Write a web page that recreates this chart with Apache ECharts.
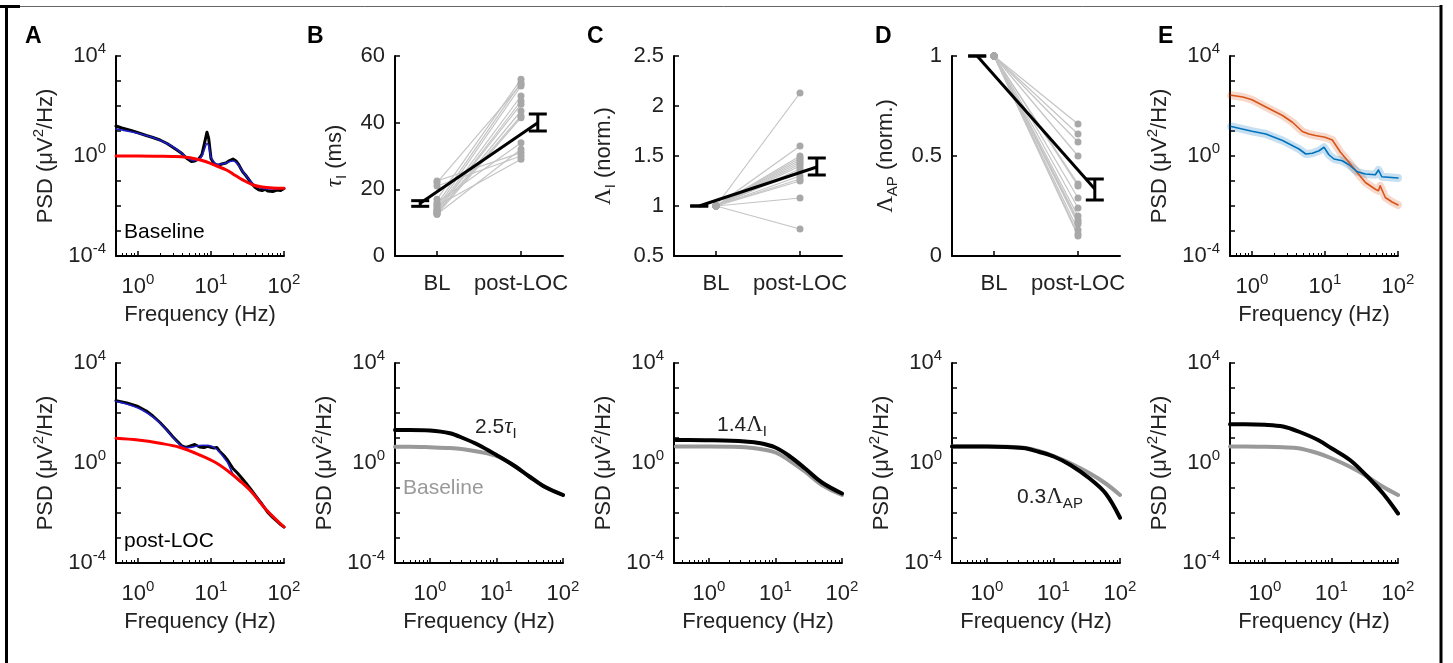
<!DOCTYPE html>
<html>
<head>
<meta charset="utf-8">
<script src="https://cdn.jsdelivr.net/npm/echarts@6.0.0/dist/echarts.min.js"></script>
<style>
html, body { margin: 0; padding: 0; background: #fff; }
#chart { width: 1453px; height: 663px; }
</style>
</head>
<body>
<div id="chart"></div>
<script>
// PSD values are kept as log10(PSD)

// A, baseline: recorded spectrum (black), full fit (blue), aperiodic part (red)
var fA1 = [0.5, 0.6, 0.8, 1, 1.3, 1.6, 2, 2.5, 3, 3.5, 4, 4.6, 5.4, 6, 6.8, 7.5, 8.2, 8.8, 9.3, 10, 11, 12.5, 14, 16, 18, 20, 22, 24, 27, 30, 35, 40, 45, 50, 55, 60, 70, 80, 90, 100];
var aTopData = [1.20, 1.12, 1.02, 0.93, 0.82, 0.74, 0.64, 0.50, 0.35, 0.22, 0.10, -0.08, -0.22, -0.20, -0.12, 0.05, 0.55, 0.95, 0.70, -0.10, -0.30, -0.38, -0.32, -0.28, -0.18, -0.12, -0.20, -0.35, -0.62, -0.78, -1.05, -1.25, -1.35, -1.38, -1.33, -1.40, -1.42, -1.36, -1.38, -1.30];
var aTopFit = [1.08, 1.04, 0.97, 0.91, 0.82, 0.74, 0.63, 0.50, 0.37, 0.24, 0.10, -0.05, -0.16, -0.18, -0.14, 0.00, 0.30, 0.50, 0.40, -0.05, -0.25, -0.34, -0.32, -0.28, -0.22, -0.20, -0.25, -0.38, -0.60, -0.78, -1.02, -1.18, -1.26, -1.30, -1.31, -1.32, -1.32, -1.31, -1.30, -1.29];
var fA1Ap = [0.5, 1, 2, 3, 4.6, 6, 8.6, 12, 16.3, 20, 24.8, 30, 37.9, 50, 70, 100];
var aTopAp = [0.00, 0.00, -0.01, -0.02, -0.05, -0.11, -0.23, -0.40, -0.56, -0.72, -0.89, -1.02, -1.16, -1.24, -1.28, -1.29];

// A, post-LOC
var fA2 = [0.5, 0.7, 1, 1.3, 1.6, 2, 2.5, 3, 3.5, 4, 4.5, 5, 6, 7, 8, 9, 10, 11, 12, 13, 15, 17, 20, 23, 26, 30, 35, 40, 50, 60, 70, 80, 90, 100];
var aBotData = [2.49, 2.40, 2.26, 2.08, 1.88, 1.62, 1.32, 1.05, 0.85, 0.68, 0.62, 0.66, 0.74, 0.64, 0.62, 0.67, 0.63, 0.60, 0.62, 0.48, 0.30, 0.10, -0.22, -0.40, -0.58, -0.80, -1.05, -1.28, -1.65, -1.98, -2.18, -2.33, -2.46, -2.56];
var aBotFit = [2.47, 2.36, 2.20, 2.02, 1.84, 1.60, 1.30, 1.03, 0.82, 0.67, 0.62, 0.62, 0.66, 0.70, 0.71, 0.70, 0.68, 0.62, 0.55, 0.45, 0.22, 0.00, -0.45, -0.66, -0.78, -0.92, -1.10, -1.28, -1.62, -1.92, -2.12, -2.30, -2.44, -2.56];
var fA2Ap = [0.5, 1, 2, 3.7, 7, 12, 20, 34, 58, 100];
var aBotAp = [0.99, 0.92, 0.79, 0.63, 0.32, -0.01, -0.48, -1.08, -1.89, -2.56];

// B-D, per subject parameters (BL -> post-LOC)
var tauBL   = [22.5, 22, 21, 17, 16, 15.5, 15, 14.5, 14, 13.5, 13.5, 13, 13, 12.5, 12.5];
var tauPost = [31, 51.5, 30, 53, 34, 52, 29, 51, 48, 46.5, 45.5, 43.5, 42, 41.5, 32];
var lamIBL   = [1, 1, 1, 1, 1, 1, 1, 1, 1, 1, 1, 1, 1, 1, 1];
var lamIPost = [2.13, 1.6, 1.5, 1.48, 1.46, 1.44, 1.42, 1.4, 1.37, 1.35, 1.3, 1.27, 1.25, 1.08, 0.77];
var lamApBL   = [1, 1, 1, 1, 1, 1, 1, 1, 1, 1, 1, 1, 1, 1, 1];
var lamApPost = [0.66, 0.61, 0.57, 0.5, 0.36, 0.35, 0.29, 0.24, 0.2, 0.18, 0.17, 0.16, 0.13, 0.11, 0.1];

// group mean and error bars, drawn beside the categories
var errX = [0.8, 2.2];
var tauMean = [15.8, 40.0], tauLo = [14.9, 37.5], tauHi = [16.6, 42.6];
var lamIMean = [1, 1.39], lamILo = [1, 1.31], lamIHi = [1, 1.48];
var lamApMean = [1, 0.335], lamApLo = [1, 0.28], lamApHi = [1, 0.385];

// E, group spectra: baseline (blue) and post-LOC (orange)
var fE1 = [0.52, 0.75, 1, 1.55, 2.62, 3.58, 4.9, 6.0, 7.4, 10, 12.6, 16.3, 21.3, 27.6, 35.8, 49, 54, 57, 67, 83, 100];
var eTopPost = [2.43, 2.36, 2.25, 1.96, 1.62, 1.35, 0.98, 0.88, 0.82, 0.75, 0.64, 0.15, -0.25, -0.66, -1.06, -1.33, -1.39, -1.19, -1.66, -1.84, -1.96];
var fE2 = [0.52, 1, 1.55, 2.62, 4.4, 5.45, 6.7, 8.3, 9.7, 11.3, 13.3, 17.2, 21.3, 27.6, 35.8, 49, 54, 60, 100];
var eTopBL = [1.18, 0.99, 0.88, 0.62, 0.28, 0.08, 0.11, 0.21, 0.35, 0.05, -0.12, -0.19, -0.35, -0.63, -0.72, -0.75, -0.56, -0.83, -0.88];

// bottom row B-E, model spectra: baseline (gray) and changed parameter (black)
var fB = [0.3, 0.5, 1, 2, 3.2, 5.4, 10, 17.8, 31.6, 53, 100];
var bBase = [0.65, 0.65, 0.63, 0.60, 0.55, 0.45, 0.28, -0.08, -0.55, -0.95, -1.28];
var bMod  = [1.32, 1.32, 1.30, 1.19, 0.99, 0.72, 0.32, -0.08, -0.55, -0.95, -1.28];
var fC = [0.32, 0.5, 1, 2.2, 3.5, 5.6, 10, 15.8, 28, 50, 100];
var cBase = [0.66, 0.66, 0.66, 0.65, 0.63, 0.57, 0.42, 0.12, -0.35, -0.88, -1.28];
var cMod  = [0.92, 0.92, 0.91, 0.89, 0.86, 0.80, 0.62, 0.30, -0.22, -0.78, -1.22];
var fD = [0.3, 0.5, 1, 2, 3.8, 6, 10.3, 18, 35, 61, 100];
var dBase = [0.66, 0.66, 0.66, 0.65, 0.60, 0.48, 0.27, -0.01, -0.41, -0.82, -1.28];
var dMod  = [0.66, 0.66, 0.66, 0.64, 0.59, 0.45, 0.25, -0.08, -0.62, -1.22, -2.19];
var fE3 = [0.3, 0.5, 1, 1.88, 3.2, 6.3, 10, 19, 33.5, 59.6, 100];
var eBase = [0.66, 0.66, 0.65, 0.63, 0.59, 0.39, 0.19, -0.15, -0.52, -0.95, -1.28];
var eMod  = [1.55, 1.55, 1.53, 1.46, 1.26, 0.92, 0.59, 0.12, -0.50, -1.22, -2.02];

var FONT = 'Liberation Sans';
var SERIF = 'Liberation Serif';
var TXT = '#222';

var cols = [116, 395, 674, 952, 1230];
var rowTop = [56, 363];

var chart = echarts.init(document.getElementById('chart'));

// rich styles for super/subscripts
var rich = {
  s: { fontSize: 15, fontFamily: FONT, color: TXT, verticalAlign: 'top', lineHeight: 15 },
  sub: { fontSize: 15, fontFamily: FONT, color: TXT, verticalAlign: 'bottom', lineHeight: 15 },
  b: { fontSize: 22, fontFamily: FONT, color: TXT, lineHeight: 29 },
  L: { fontSize: 23, fontFamily: SERIF, color: TXT, lineHeight: 29 },
  t: { fontSize: 23, fontFamily: SERIF, fontStyle: 'italic', color: TXT, lineHeight: 29 }
};

// decade labels; the PSD axis only labels every 4th decade
function powLabel(v) {
  var e = Math.log10(v);
  var r = Math.round(e);
  if (Math.abs(e - r) > 1e-6) return '';
  return '{b|10}{s|' + r + '}';
}
function psdLabel(v) {
  var r = Math.round(Math.log10(v));
  return r % 4 === 0 ? powLabel(v) : '';
}

var axisLine = { show: true, onZero: false, lineStyle: { color: '#000', width: 2 } };
var tick = { show: true, inside: true, length: 5, lineStyle: { color: '#000', width: 1.5 } };

var grids = [], xAxes = [], yAxes = [], series = [];

for (var r = 0; r < 2; r++) {
  for (var c = 0; c < 5; c++) {
    grids.push({ left: cols[c], top: rowTop[r], width: 168, height: 200 });
  }
}

function freqAxis(g, min) {
  return {
    gridIndex: g, type: 'log', logBase: 10, min: min, max: 100,
    axisLine: axisLine, axisTick: tick, splitLine: { show: false },
    minorTick: { show: true, splitNumber: 9, length: 3, lineStyle: { color: '#000', width: 1 } },
    axisLabel: { formatter: powLabel, rich: rich, margin: 16, color: TXT },
    name: 'Frequency (Hz)', nameLocation: 'middle', nameGap: 48,
    nameTextStyle: { fontSize: 22, fontFamily: FONT, color: TXT }
  };
}
function psdAxis(g) {
  return {
    gridIndex: g, type: 'log', logBase: 10, min: 1e-4, max: 1e4, interval: 1,
    axisLine: axisLine, axisTick: tick, splitLine: { show: false },
    axisLabel: { formatter: psdLabel, rich: rich, margin: 10, color: TXT },
    name: 'PSD (μV{s|2}/Hz)', nameLocation: 'middle', nameGap: 56,
    nameTextStyle: { fontSize: 22, fontFamily: FONT, color: TXT, lineHeight: 29, rich: rich }
  };
}
function catAxis(g) {
  return {
    gridIndex: g, type: 'value', min: 0.5, max: 2.5, interval: 0.5,
    axisLine: axisLine, splitLine: { show: false },
    axisTick: { show: true, inside: true, length: 5, customValues: [1, 2], lineStyle: { color: '#000', width: 1.5 } },
    axisLabel: {
      customValues: [1, 2], margin: 17, fontSize: 22, fontFamily: FONT, color: TXT,
      formatter: function (v) { return v === 1 ? 'BL' : 'post-LOC'; }
    }
  };
}
function valAxis(g, min, max, step, name, gap) {
  return {
    gridIndex: g, type: 'value', min: min, max: max, interval: step,
    axisLine: axisLine, axisTick: tick, splitLine: { show: false },
    axisLabel: { fontSize: 22, fontFamily: FONT, color: TXT, margin: 10 },
    name: name, nameLocation: 'middle', nameGap: gap,
    nameTextStyle: { fontSize: 22, fontFamily: FONT, color: TXT, lineHeight: 29, rich: rich }
  };
}

// x axes
xAxes.push(freqAxis(0, 0.5));
xAxes.push(catAxis(1));
xAxes.push(catAxis(2));
xAxes.push(catAxis(3));
xAxes.push(freqAxis(4, 0.5));
xAxes.push(freqAxis(5, 0.5));
xAxes.push(freqAxis(6, 0.3));
xAxes.push(freqAxis(7, 0.3));
xAxes.push(freqAxis(8, 0.3));
xAxes.push(freqAxis(9, 0.3));

// y axes
yAxes.push(psdAxis(0));
yAxes.push(valAxis(1, 0, 60, 20, '{t|τ}{sub|I} (ms)', 46));
yAxes.push(valAxis(2, 0.5, 2.5, 0.5, '{L|Λ}{sub|I} (norm.)', 56));
yAxes.push(valAxis(3, 0, 1, 0.5, '{L|Λ}{sub|AP} (norm.)', 52));
for (var g = 4; g < 10; g++) yAxes.push(psdAxis(g));

function pts(f, lg) {
  return f.map(function (x, i) { return [x, Math.pow(10, lg[i])]; });
}
function line(g, data, color, width, smooth, z) {
  return {
    type: 'line', xAxisIndex: g, yAxisIndex: g, data: data, symbol: 'none',
    smooth: smooth ? 0.35 : false, z: z || 2, silent: true,
    lineStyle: { color: color, width: width, cap: 'round', join: 'round' }
  };
}

// A
series.push(line(0, pts(fA1, aTopData), '#000', 3, false, 2));
series.push(line(0, pts(fA1, aTopFit), '#1c1cc8', 1.6, true, 3));
series.push(line(0, pts(fA1Ap, aTopAp), '#f00', 3, true, 4));
series.push(line(5, pts(fA2, aBotData), '#000', 3, false, 2));
series.push(line(5, pts(fA2, aBotFit), '#1c1cc8', 1.6, true, 3));
series.push(line(5, pts(fA2Ap, aBotAp), '#f00', 3, true, 4));

// B-D paired dots
function paired(g, bl, post, mean, lo, hi) {
  for (var i = 0; i < bl.length; i++) {
    series.push({
      type: 'line', xAxisIndex: g, yAxisIndex: g, data: [[1, bl[i]], [2, post[i]]],
      symbol: 'circle', symbolSize: 7, silent: true, z: 2,
      itemStyle: { color: '#a8a8a8' },
      lineStyle: { color: '#c4c4c4', width: 1.2 }
    });
  }
  series.push({
    type: 'line', xAxisIndex: g, yAxisIndex: g,
    data: [[errX[0], mean[0]], [errX[1], mean[1]]],
    symbol: 'none', silent: true, z: 4, lineStyle: { color: '#000', width: 3 }
  });
  series.push({
    type: 'custom', xAxisIndex: g, yAxisIndex: g, z: 5, silent: true, clip: false,
    data: errX.map(function (x, i) { return [x, lo[i], hi[i]]; }),
    encode: { x: 0, y: [1, 2] },
    renderItem: function (params, api) {
      var a = api.coord([api.value(0), api.value(1)]);
      var b = api.coord([api.value(0), api.value(2)]);
      var w = 9, st = { stroke: '#000', lineWidth: 3 };
      return {
        type: 'group', children: [
          { type: 'line', shape: { x1: a[0], y1: a[1], x2: b[0], y2: b[1] }, style: st },
          { type: 'line', shape: { x1: a[0] - w, y1: a[1], x2: a[0] + w, y2: a[1] }, style: st },
          { type: 'line', shape: { x1: b[0] - w, y1: b[1], x2: b[0] + w, y2: b[1] }, style: st }
        ]
      };
    }
  });
}
paired(1, tauBL, tauPost, tauMean, tauLo, tauHi);
paired(2, lamIBL, lamIPost, lamIMean, lamILo, lamIHi);
paired(3, lamApBL, lamApPost, lamApMean, lamApLo, lamApHi);

// E top, shaded band drawn as a wide translucent stroke
series.push(line(4, pts(fE1, eTopPost), 'rgba(217,83,25,0.22)', 8, false, 2));
series.push(line(4, pts(fE2, eTopBL), 'rgba(0,114,189,0.22)', 8, false, 2));
series.push(line(4, pts(fE1, eTopPost), '#d95319', 1.6, false, 3));
series.push(line(4, pts(fE2, eTopBL), '#0072bd', 1.6, false, 3));

// bottom row models
var bottom = [[6, fB, bBase, bMod], [7, fC, cBase, cMod], [8, fD, dBase, dMod], [9, fE3, eBase, eMod]];
bottom.forEach(function (m) {
  series.push(line(m[0], pts(m[1], m[2]), '#999', 4, true, 2));
  series.push(line(m[0], pts(m[1], m[3]), '#000', 4, true, 3));
});

function txt(x, y, text, opts) {
  opts = opts || {};
  return {
    type: 'text', x: x, y: y, silent: true, z: 10,
    style: {
      text: text, fill: opts.color || TXT, align: 'left', verticalAlign: 'middle',
      font: (opts.weight || 'normal') + ' ' + (opts.size || 21) + 'px "' + FONT + '"',
      rich: rich
    }
  };
}

var graphics = [
  // frame
  { type: 'line', shape: { x1: 6, y1: 6.5, x2: 1441, y2: 6.5 }, style: { stroke: '#666', lineWidth: 1 } },
  { type: 'line', shape: { x1: 0, y1: 6.5, x2: 20, y2: 6.5 }, style: { stroke: '#000', lineWidth: 3 } },
  { type: 'line', shape: { x1: 6.5, y1: 5, x2: 6.5, y2: 663 }, style: { stroke: '#000', lineWidth: 3 } },
  { type: 'line', shape: { x1: 1441, y1: 5, x2: 1441, y2: 663 }, style: { stroke: '#000', lineWidth: 3 } },
  // panel letters
  txt(25, 37, 'A', { weight: 'bold', size: 23, color: '#000' }),
  txt(307, 37, 'B', { weight: 'bold', size: 23, color: '#000' }),
  txt(587, 37, 'C', { weight: 'bold', size: 23, color: '#000' }),
  txt(875, 37, 'D', { weight: 'bold', size: 23, color: '#000' }),
  txt(1158, 37, 'E', { weight: 'bold', size: 23, color: '#000' }),
  // annotations
  txt(124, 232, 'Baseline', { color: '#000' }),
  txt(124, 541, 'post-LOC', { color: '#000' }),
  txt(403, 488, 'Baseline', { color: '#999' }),
  txt(475, 427, '2.5{t|τ}{sub|I}'),
  txt(717, 425, '1.4{L|Λ}{sub|I}'),
  txt(1017, 497, '0.3{L|Λ}{sub|AP}')
];

chart.setOption({
  animation: false,
  backgroundColor: '#fff',
  grid: grids,
  xAxis: xAxes,
  yAxis: yAxes,
  series: series,
  graphic: graphics
});
</script>
</body>
</html>
